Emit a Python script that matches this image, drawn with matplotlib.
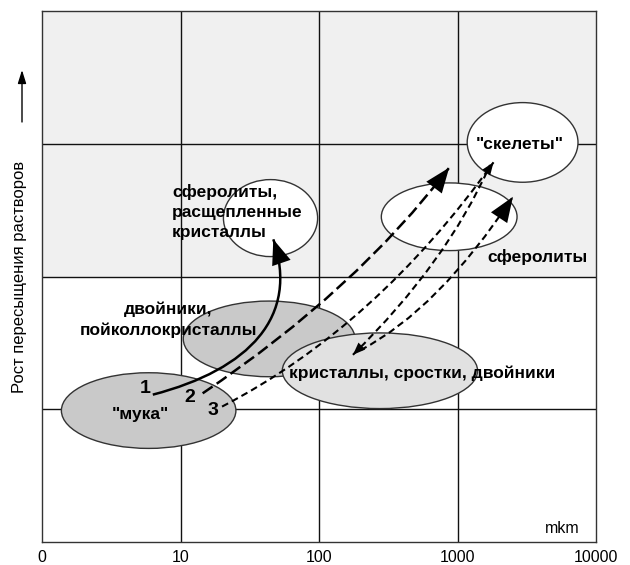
import numpy as np
import matplotlib
matplotlib.use('Agg')
import matplotlib.pyplot as plt
from matplotlib.patches import Ellipse, FancyArrowPatch, Rectangle
from matplotlib.path import Path

plt.rcParams['font.family'] = ['Liberation Sans', 'DejaVu Sans']

# x: crystal size in decades (0 -> 1 mkm, 4 -> 10000 mkm), y: supersaturation level
decade_labels = ['0', '10', '100', '1000', '10000']
n_rows = 4
shaded_from = 2

# zones (ellipses): centre, width, height
zone_x = [0.77, 1.64, 2.44, 1.65, 2.94, 3.47]
zone_y = [0.99, 1.53, 1.29, 2.44, 2.45, 3.01]
zone_w = [1.26, 1.24, 1.41, 0.68, 0.98, 0.80]
zone_h = [0.57, 0.57, 0.57, 0.58, 0.51, 0.60]
zone_fill = ['#c9c9c9', '#c9c9c9', '#e1e1e1', 'white', 'white', 'white']

# growth paths (bezier control points)
path1 = [(0.80, 1.11), (1.50, 1.30), (1.86, 1.70), (1.67, 2.28)]
path2 = [(1.16, 1.12), (2.27, 1.90), (2.94, 2.82)]
path3 = [(1.30, 1.02), (2.41, 1.62), (3.26, 2.86)]
path4 = [(2.245, 1.41), (2.92, 2.10), (3.235, 2.84)]
path5 = [(2.30, 1.445), (2.86, 1.75), (3.40, 2.60)]

labels = [
    ('сферолиты,\nрасщепленные\nкристаллы', 0.94, 2.486, 'left'),
    ('двойники,\nпойколлокристаллы', 0.91, 1.672, 'center'),
    ('"мука"', 0.71, 0.957, 'center'),
    ('кристаллы, сростки, двойники', 2.744, 1.273, 'center'),
    ('сферолиты', 3.213, 2.147, 'left'),
    ('"скелеты"', 3.451, 2.998, 'center'),
]
numbers = [('1', 0.744, 1.16), ('2', 1.069, 1.085), ('3', 1.235, 0.994)]

fig = plt.figure(figsize=(6.3, 5.65), dpi=100)
ax = fig.add_axes([42/630, 23/565, 554/630, 531/565])
ax.set_xlim(0, 4)
ax.set_ylim(0, n_rows)

ax.add_patch(Rectangle((0, shaded_from), 4, n_rows - shaded_from, fc='#f0f0f0', ec='none', zorder=0))
for i in range(1, 4):
    ax.axvline(i, color='#111111', lw=1, zorder=1)
for j in range(1, n_rows):
    ax.axhline(j, color='#111111', lw=1, zorder=1)

for k in range(len(zone_x)):
    ax.add_patch(Ellipse((zone_x[k], zone_y[k]), zone_w[k], zone_h[k],
                         fc=zone_fill[k], ec='#333333', lw=1, zorder=2 + k * 0.1))

def bez(pts):
    codes = [Path.MOVETO] + ([Path.CURVE4] * 3 if len(pts) == 4 else [Path.CURVE3] * 2)
    return Path(pts, codes)

BIG = '-|>,head_length=18,head_width=7'
SMALL = '-|>,head_length=9,head_width=3.5'

def draw(pts, ls, lw, end=None, start=None):
    ax.add_patch(FancyArrowPatch(path=bez(pts), arrowstyle='-', ec='black', lw=lw,
                                 linestyle=ls, zorder=4, capstyle='butt'))
    # solid heads drawn separately so the dashes do not break them
    heads = []
    if end:
        heads.append((pts[-2], pts[-1], end))
    if start:
        heads.append((pts[1], pts[0], start))
    for base, tip, style in heads:
        ax.add_patch(FancyArrowPatch(base, tip, arrowstyle=style, mutation_scale=1,
                                     fc='black', ec='black', lw=0, shrinkA=0, shrinkB=0,
                                     zorder=4.5))

draw(path1, '-', 1.8, end=BIG)
draw(path2, (0, (4.8, 2)), 1.8, end=BIG)
draw(path3, (0, (3.3, 2)), 1.5, end=SMALL)
draw(path4, (0, (3.3, 2)), 1.5, start=SMALL)
draw(path5, (0, (3.3, 2)), 1.5, end=BIG)

for txt, x, y, ha in labels:
    ax.text(x, y, txt, ha=ha, va='center', fontsize=12.5, fontweight='bold',
            linespacing=1.44, zorder=5)
for txt, x, y in numbers:
    ax.text(x, y, txt, ha='center', va='center', fontsize=14, fontweight='bold', zorder=5)

ax.text(3.884, 0.105, 'mkm', ha='right', va='center', fontsize=11.5)

ax.set_xticks(range(5))
ax.set_xticklabels(decade_labels, fontsize=11.5)
ax.set_yticks([])
ax.tick_params(axis='x', length=0, pad=6)
for s in ax.spines.values():
    s.set_color('#333333')
    s.set_linewidth(1)

fig.text(20/630, 1 - 277/565, 'Рост пересыщения растворов', rotation=90,
         ha='center', va='center', fontsize=12)
ax.annotate('', xy=(22/630, 1 - 70/565), xytext=(22/630, 1 - 122/565),
            xycoords='figure fraction', textcoords='figure fraction',
            arrowprops=dict(arrowstyle='-|>,head_length=0.8,head_width=0.25',
                            color='black', lw=1, shrinkA=0, shrinkB=0, mutation_scale=10))

fig.savefig('out.png', dpi=100)
